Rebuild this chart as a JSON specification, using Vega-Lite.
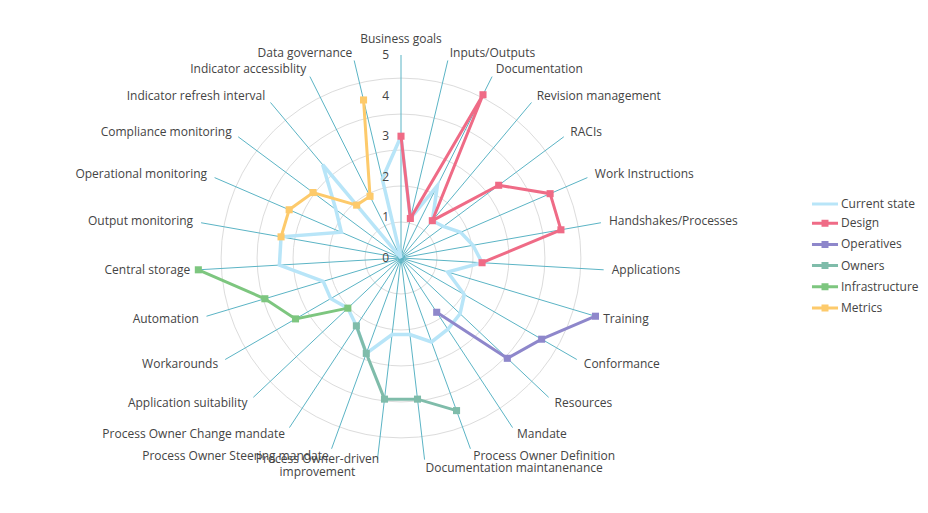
{
  "$schema": "https://vega.github.io/schema/vega-lite/v6.json",
  "width": 406,
  "height": 406,
  "autosize": {"type": "none"},
  "padding": {"left": 198, "top": 55, "right": 324, "bottom": 52},
  "background": "white",
  "config": {"view": {"stroke": null}, "font": "Open Sans"},
  "datasets": {
    "rings": [{"r": 0}, {"r": 1}, {"r": 2}, {"r": 3}, {"r": 4}, {"r": 5}],
    "axes": [
      {"k": 0, "label": "Business goals"},
      {"k": 1, "label": "Inputs/Outputs"},
      {"k": 2, "label": "Documentation"},
      {"k": 3, "label": "Revision management"},
      {"k": 4, "label": "RACIs"},
      {"k": 5, "label": "Work Instructions"},
      {"k": 6, "label": "Handshakes/Processes"},
      {"k": 7, "label": "Applications"},
      {"k": 8, "label": "Training"},
      {"k": 9, "label": "Conformance"},
      {"k": 10, "label": "Resources"},
      {"k": 11, "label": "Mandate"},
      {"k": 12, "label": "Process Owner Definition"},
      {"k": 13, "label": "Documentation maintanenance"},
      {"k": 14, "label": "Process Owner-driven\nimprovement"},
      {"k": 15, "label": "Process Owner Steering mandate"},
      {"k": 16, "label": "Process Owner Change mandate"},
      {"k": 17, "label": "Application suitability"},
      {"k": 18, "label": "Workarounds"},
      {"k": 19, "label": "Automation"},
      {"k": 20, "label": "Central storage"},
      {"k": 21, "label": "Output monitoring"},
      {"k": 22, "label": "Operational monitoring"},
      {"k": 23, "label": "Compliance monitoring"},
      {"k": 24, "label": "Indicator refresh interval"},
      {"k": 25, "label": "Indicator accessiblity"},
      {"k": 26, "label": "Data governance"}
    ],
    "series": [
      {"s": "Current state", "k": 0, "v": 3},
      {"s": "Current state", "k": 1, "v": 1},
      {"s": "Current state", "k": 2, "v": 2},
      {"s": "Current state", "k": 3, "v": 1.2},
      {"s": "Current state", "k": 4, "v": 1.3},
      {"s": "Current state", "k": 5, "v": 1.6},
      {"s": "Current state", "k": 6, "v": 1.8},
      {"s": "Current state", "k": 7, "v": 2},
      {"s": "Current state", "k": 8, "v": 1.2},
      {"s": "Current state", "k": 9, "v": 1.8},
      {"s": "Current state", "k": 10, "v": 2},
      {"s": "Current state", "k": 11, "v": 2.1},
      {"s": "Current state", "k": 12, "v": 2.2},
      {"s": "Current state", "k": 13, "v": 1.9},
      {"s": "Current state", "k": 14, "v": 1.9},
      {"s": "Current state", "k": 15, "v": 2.5},
      {"s": "Current state", "k": 16, "v": 2},
      {"s": "Current state", "k": 17, "v": 1.8},
      {"s": "Current state", "k": 18, "v": 2},
      {"s": "Current state", "k": 19, "v": 2},
      {"s": "Current state", "k": 20, "v": 3},
      {"s": "Current state", "k": 21, "v": 3},
      {"s": "Current state", "k": 22, "v": 1.6},
      {"s": "Current state", "k": 23, "v": 2},
      {"s": "Current state", "k": 24, "v": 3},
      {"s": "Current state", "k": 25, "v": 0},
      {"s": "Current state", "k": 26, "v": 2},
      {"s": "Current state", "k": 27, "v": 3},
      {"s": "Design", "k": 0, "v": 3},
      {"s": "Design", "k": 1, "v": 1},
      {"s": "Design", "k": 2, "v": 4.5},
      {"s": "Design", "k": 3, "v": 1.2},
      {"s": "Design", "k": 4, "v": 3},
      {"s": "Design", "k": 5, "v": 4},
      {"s": "Design", "k": 6, "v": 4},
      {"s": "Design", "k": 7, "v": 2},
      {"s": "Operatives", "k": 8, "v": 5},
      {"s": "Operatives", "k": 9, "v": 4},
      {"s": "Operatives", "k": 10, "v": 3.6},
      {"s": "Operatives", "k": 11, "v": 1.6},
      {"s": "Owners", "k": 12, "v": 4},
      {"s": "Owners", "k": 13, "v": 3.5},
      {"s": "Owners", "k": 14, "v": 3.5},
      {"s": "Owners", "k": 15, "v": 2.5},
      {"s": "Owners", "k": 16, "v": 2},
      {"s": "Infrastructure", "k": 17, "v": 1.8},
      {"s": "Infrastructure", "k": 18, "v": 3},
      {"s": "Infrastructure", "k": 19, "v": 3.5},
      {"s": "Infrastructure", "k": 20, "v": 5},
      {"s": "Metrics", "k": 21, "v": 3},
      {"s": "Metrics", "k": 22, "v": 3},
      {"s": "Metrics", "k": 23, "v": 2.7},
      {"s": "Metrics", "k": 24, "v": 1.7},
      {"s": "Metrics", "k": 25, "v": 1.7},
      {"s": "Metrics", "k": 26, "v": 4}
    ]
  },
  "layer": [
    {
      "data": {"name": "rings"},
      "transform": [{"filter": "datum.r > 0"}, {"calculate": "0", "as": "c"}],
      "mark": {"type": "point", "shape": "circle", "filled": false, "stroke": "#dcdcdc", "strokeWidth": 1, "opacity": 1},
      "encoding": {
        "x": {"field": "c", "type": "quantitative", "scale": {"domain": [-5, 5], "nice": false, "zero": false}, "axis": null},
        "y": {"field": "c", "type": "quantitative", "scale": {"domain": [-5, 5], "nice": false, "zero": false}, "axis": null},
        "size": {"field": "r", "type": "quantitative", "scale": {"type": "pow", "exponent": 2, "domain": [0, 5], "range": [0, 129462], "zero": true}, "legend": null}
      }
    },
    {
      "data": {"name": "axes"},
      "transform": [
        {"calculate": "0", "as": "c"},
        {"calculate": "5*sin(datum.k*2*PI/27)", "as": "ex"},
        {"calculate": "5*cos(datum.k*2*PI/27)", "as": "ey"}
      ],
      "mark": {"type": "rule", "color": "#5bb4c5", "strokeWidth": 1},
      "encoding": {
        "x": {"field": "c", "type": "quantitative"},
        "y": {"field": "c", "type": "quantitative"},
        "x2": {"field": "ex"},
        "y2": {"field": "ey"}
      }
    },
    {
      "data": {"name": "series"},
      "transform": [
        {"filter": "datum.s === 'Current state'"},
        {"calculate": "datum.v*sin(datum.k*2*PI/27)", "as": "px"},
        {"calculate": "datum.v*cos(datum.k*2*PI/27)", "as": "py"}
      ],
      "mark": {"type": "line", "strokeWidth": 3.5, "interpolate": "linear"},
      "encoding": {
        "x": {"field": "px", "type": "quantitative"},
        "y": {"field": "py", "type": "quantitative"},
        "order": {"field": "k", "type": "quantitative"},
        "color": {
          "field": "s", "type": "nominal",
          "scale": {"domain": ["Current state", "Design", "Operatives", "Owners", "Infrastructure", "Metrics"], "range": ["#b8e5f8", "#ef6b86", "#8e87cb", "#7fbcaa", "#7dc67f", "#fdca6b"]},
          "legend": {
            "title": null, "orient": "none", "legendX": 615, "legendY": 137,
            "symbolSize": 441, "labelFont": "Open Sans", "labelFontSize": 12, "labelColor": "#444",
            "labelOffset": 4, "rowPadding": 1.2, "symbolStrokeWidth": 3, "symbolType": "stroke",
            "encode": {"symbols": {"update": {
              "shape": {"signal": "datum.value === 'Current state' ? 'M-1.24,0L1.24,0' : 'M-1.24,0L1.24,0M-0.19,-0.19L0.19,-0.19L0.19,0.19L-0.19,0.19Z'"},
              "stroke": {"scale": "color", "field": "value"},
              "fill": {"scale": "color", "field": "value"},
              "strokeWidth": {"value": 3},
              "opacity": {"value": 1}
            }}}
          }
        }
      }
    },
    {
      "data": {"name": "series"},
      "transform": [
        {"filter": "datum.s !== 'Current state'"},
        {"calculate": "datum.v*sin(datum.k*2*PI/27)", "as": "px"},
        {"calculate": "datum.v*cos(datum.k*2*PI/27)", "as": "py"}
      ],
      "mark": {"type": "line", "strokeWidth": 3, "interpolate": "linear"},
      "encoding": {
        "x": {"field": "px", "type": "quantitative"},
        "y": {"field": "py", "type": "quantitative"},
        "order": {"field": "k", "type": "quantitative"},
        "color": {"field": "s", "type": "nominal"}
      }
    },
    {
      "data": {"name": "series"},
      "transform": [
        {"filter": "datum.s !== 'Current state'"},
        {"calculate": "datum.v*sin(datum.k*2*PI/27)", "as": "px"},
        {"calculate": "datum.v*cos(datum.k*2*PI/27)", "as": "py"}
      ],
      "mark": {"type": "point", "shape": "square", "filled": true, "size": 50, "opacity": 1},
      "encoding": {
        "x": {"field": "px", "type": "quantitative"},
        "y": {"field": "py", "type": "quantitative"},
        "color": {"field": "s", "type": "nominal"}
      }
    },
    {
      "data": {"name": "rings"},
      "transform": [{"calculate": "0", "as": "c"}],
      "mark": {"type": "text", "align": "right", "baseline": "middle", "dx": -12, "font": "Open Sans", "fontSize": 12, "color": "#444"},
      "encoding": {
        "x": {"field": "c", "type": "quantitative"},
        "y": {"field": "r", "type": "quantitative"},
        "text": {"field": "r", "type": "quantitative"}
      }
    },
    {
      "data": {"name": "axes"},
      "transform": [
        {"filter": "datum.k >= 1 && datum.k <= 13"},
        {"calculate": "5.2*sin(datum.k*2*PI/27)", "as": "lx"},
        {"calculate": "5.2*cos(datum.k*2*PI/27)", "as": "ly"}
      ],
      "mark": {"type": "text", "align": "left", "baseline": "middle", "font": "Open Sans", "fontSize": 12, "color": "#444"},
      "encoding": {
        "x": {"field": "lx", "type": "quantitative"},
        "y": {"field": "ly", "type": "quantitative"},
        "text": {"field": "label", "type": "nominal"}
      }
    },
    {
      "data": {"name": "axes"},
      "transform": [
        {"filter": "datum.k >= 15"},
        {"calculate": "5.2*sin(datum.k*2*PI/27)", "as": "lx"},
        {"calculate": "5.2*cos(datum.k*2*PI/27)", "as": "ly"}
      ],
      "mark": {"type": "text", "align": "right", "baseline": "middle", "font": "Open Sans", "fontSize": 12, "color": "#444"},
      "encoding": {
        "x": {"field": "lx", "type": "quantitative"},
        "y": {"field": "ly", "type": "quantitative"},
        "text": {"field": "label", "type": "nominal"}
      }
    },
    {
      "data": {"name": "axes"},
      "transform": [
        {"filter": "datum.k == 0"},
        {"calculate": "5.22*sin(datum.k*2*PI/27)", "as": "lx"},
        {"calculate": "5.22*cos(datum.k*2*PI/27)", "as": "ly"}
      ],
      "mark": {"type": "text", "align": "center", "baseline": "bottom", "font": "Open Sans", "fontSize": 12, "color": "#444"},
      "encoding": {
        "x": {"field": "lx", "type": "quantitative"},
        "y": {"field": "ly", "type": "quantitative"},
        "text": {"field": "label", "type": "nominal"}
      }
    },
    {
      "data": {"name": "axes"},
      "transform": [
        {"filter": "datum.k == 14"},
        {"calculate": "5.22*sin(datum.k*2*PI/27)", "as": "lx"},
        {"calculate": "5.22*cos(datum.k*2*PI/27)", "as": "ly"}
      ],
      "mark": {"type": "text", "align": "center", "baseline": "top", "dx": -59, "dy": -14, "lineBreak": "\n", "lineHeight": 13, "font": "Open Sans", "fontSize": 12, "color": "#444"},
      "encoding": {
        "x": {"field": "lx", "type": "quantitative"},
        "y": {"field": "ly", "type": "quantitative"},
        "text": {"field": "label", "type": "nominal"}
      }
    }
  ]
}
